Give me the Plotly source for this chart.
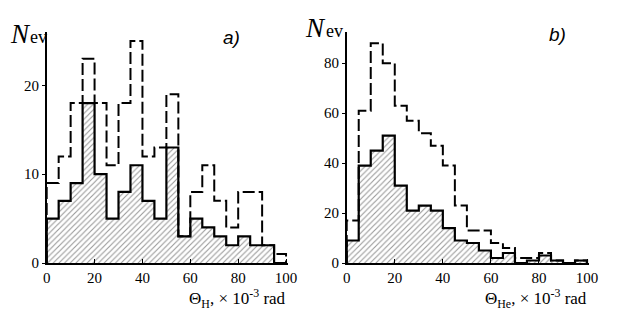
import plotly.graph_objects as go
from plotly.subplots import make_subplots

bin_edges = [0, 5, 10, 15, 20, 25, 30, 35, 40, 45, 50, 55, 60, 65, 70, 75, 80, 85, 90, 95, 100]

# Panel a) hydrogen
a_solid = [5, 7, 9, 18, 10, 5, 8, 11, 7, 5, 13, 3, 5, 4, 3, 2, 3, 2, 2, 0]
a_dashed = [9, 12, 18, 23, 18, 11, 18, 25, 12, 13, 19, 3, 8, 11, 7, 4, 8, 8, 2, 1]

# Panel b) helium
b_solid = [9, 39, 45, 51, 31, 21, 23, 21, 14, 9, 8, 5, 2, 4, 0, 1, 3, 1, 0, 1]
b_dashed = [17, 61, 88, 80, 63, 57, 52, 47, 39, 23, 13, 13, 8, 6, 2, 2, 4, 1, 0, 1]

x_ticks = [0, 20, 40, 60, 80, 100]
a_yticks = [0, 10, 20]
b_yticks = [0, 20, 40, 60, 80]


def step(vals):
    xs = [bin_edges[0]] + bin_edges[:-1] + [bin_edges[-1]]
    ys = [0] + list(vals) + [0]
    return xs, ys


# the page body has an 8px margin, so the figure is placed at (8, 8)
OFF = 8
W, H = 623 - OFF, 311 - OFF


def px(x):
    return (x - OFF) / W


def py(y):
    return 1 - (y - OFF) / H


fig = make_subplots(rows=1, cols=2)

for col, solid, dashed in [(1, a_solid, a_dashed), (2, b_solid, b_dashed)]:
    xs, ys = step(solid)
    fig.add_trace(go.Scatter(
        x=xs, y=ys, mode="lines", line=dict(width=0, shape="hv", color="rgba(0,0,0,0)"),
        fill="tozeroy", fillcolor="rgba(255,255,255,0)",
        fillpattern=dict(shape="/", fgcolor="#333333", bgcolor="white", size=4, solidity=0.28),
        showlegend=False, hoverinfo="skip"), row=1, col=col)
    xd, yd = step(dashed)
    fig.add_trace(go.Scatter(
        x=xd, y=yd, mode="lines", line=dict(width=2, shape="hv", color="black", dash="12px,4px"),
        showlegend=False), row=1, col=col)
    fig.add_trace(go.Scatter(
        x=xs, y=ys, mode="lines", line=dict(width=2.2, shape="hv", color="black"),
        showlegend=False), row=1, col=col)

serif = "Liberation Serif, Times New Roman, serif"
tickfont = dict(family=serif, size=15, color="black")
ydom = [py(263), py(32)]
fig.update_xaxes(range=[0, 100.6], tickvals=x_ticks, ticks="inside", ticklen=4, tickwidth=1,
                 tickcolor="black", showline=True, linecolor="black", linewidth=1.5,
                 showgrid=False, zeroline=False, tickfont=tickfont, automargin=False)
fig.update_yaxes(ticks="outside", ticklen=3, tickwidth=1, tickcolor="black", showline=True,
                 linecolor="black", linewidth=1.5, showgrid=False, zeroline=False,
                 tickfont=tickfont, domain=ydom, automargin=False)
fig.update_layout(
    xaxis=dict(domain=[px(46.7), px(287.5)]),
    xaxis2=dict(domain=[px(346.7), px(588.5)]),
    yaxis=dict(range=[0, 26], tickvals=a_yticks),
    yaxis2=dict(range=[0, 92.5], tickvals=b_yticks),
)

ann = []
# N_ev labels
ann.append(dict(x=px(8), y=py(51), text="<i>N</i>", font=dict(family=serif, size=27, color="black"),
                xanchor="left", yanchor="bottom"))
ann.append(dict(x=px(28), y=py(49), text="ev", font=dict(family=serif, size=18, color="black"),
                xanchor="left", yanchor="bottom"))
ann.append(dict(x=px(303), y=py(45), text="<i>N</i>", font=dict(family=serif, size=27, color="black"),
                xanchor="left", yanchor="bottom"))
ann.append(dict(x=px(324), y=py(43), text="ev", font=dict(family=serif, size=18, color="black"),
                xanchor="left", yanchor="bottom"))
# panel letters
ann.append(dict(x=px(231), y=py(37), text="<i>a)</i>", font=dict(family="Liberation Sans, Arial", size=19, color="black"),
                xanchor="center", yanchor="middle"))
ann.append(dict(x=px(557), y=py(35), text="<i>b)</i>", font=dict(family="Liberation Sans, Arial", size=19, color="black"),
                xanchor="center", yanchor="middle"))
# x titles
ann.append(dict(x=px(288), y=py(298), text="Θ<sub>H</sub>, × 10<sup>-3</sup> rad",
                font=dict(family=serif, size=17, color="black"), xanchor="right", yanchor="middle"))
ann.append(dict(x=px(589), y=py(298), text="Θ<sub>He</sub>, × 10<sup>-3</sup> rad",
                font=dict(family=serif, size=17, color="black"), xanchor="right", yanchor="middle"))
for a in ann:
    a.update(xref="paper", yref="paper", showarrow=False)

fig.update_layout(width=W, height=H, margin=dict(l=0, r=0, t=0, b=0),
                  paper_bgcolor="white", plot_bgcolor="white", annotations=ann)

fig.write_html("out.html")
